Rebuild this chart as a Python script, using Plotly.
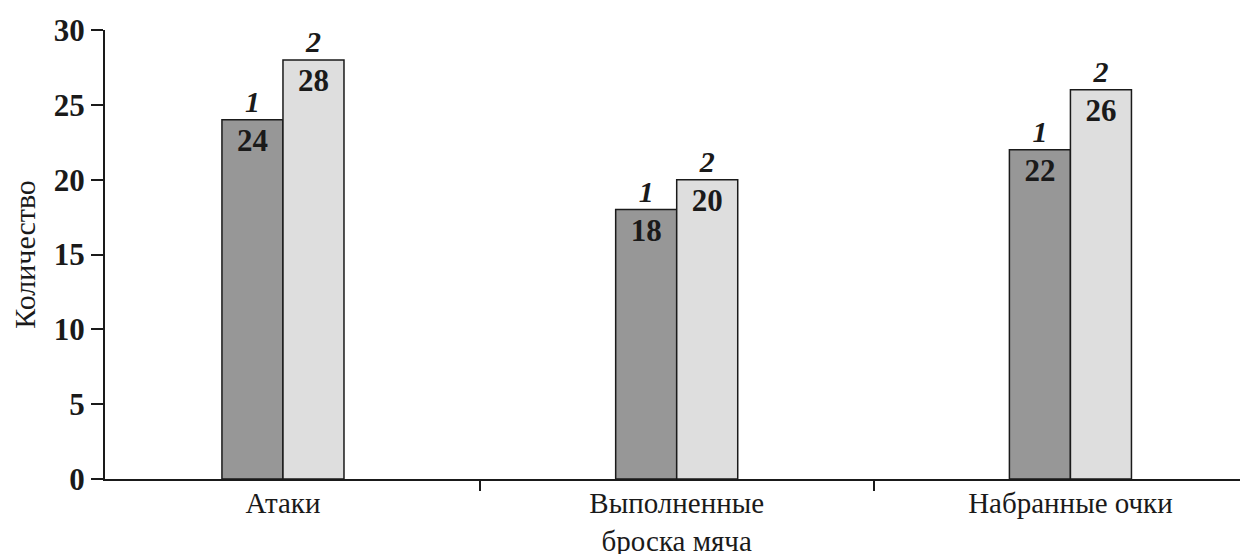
import plotly.graph_objects as go

categories = ["Атаки", "Выполненные<br>броска мяча", "Набранные очки"]
series1 = [24, 18, 22]
series2 = [28, 20, 26]
series_names = ["1", "2"]
y_ticks = [0, 5, 10, 15, 20, 25, 30]

FONT = "Liberation Serif"
colors = ["#979797", "#dedede"]
INK = "#1a1a1a"

fig = go.Figure()
for name, vals, col in zip(series_names, [series1, series2], colors):
    fig.add_trace(go.Bar(
        x=categories, y=vals, name=name, offsetgroup=name,
        marker=dict(color=col, line=dict(color=INK, width=1.5)),
        text=[str(v) for v in vals], textposition="inside", insidetextanchor="end",
        textangle=0,
        textfont=dict(family=FONT, size=31, color=INK, weight="bold"),
        constraintext="none",
    ))
for name, vals in zip(series_names, [series1, series2]):
    fig.add_trace(go.Scatter(
        x=categories, y=vals, offsetgroup=name, mode="text",
        text=[f"<b><i>{name}</i></b>"] * len(vals), textposition="top center",
        textfont=dict(family=FONT, size=30, color=INK),
        hoverinfo="skip",
    ))

fig.update_layout(
    width=1240, height=546,
    margin=dict(l=97, r=0, t=22, b=75, pad=0),
    paper_bgcolor="white", plot_bgcolor="white",
    barmode="group", bargap=0.69, bargroupgap=0,
    scattermode="group", scattergap=0.69,
    showlegend=False,
    font=dict(family=FONT, color=INK),
    xaxis=dict(
        type="category", range=[-0.452, 2.451], automargin=False,
        showline=True, linecolor=INK, linewidth=2,
        ticks="outside", tickson="boundaries", ticklen=10, tickcolor=INK, tickwidth=1.5,
        ticklabelstandoff=-3,
        tickfont=dict(family=FONT, size=29, color=INK),
        showgrid=False, zeroline=False,
    ),
    yaxis=dict(
        range=[0, 30], tickvals=y_ticks, automargin=False,
        showline=True, linecolor=INK, linewidth=2,
        ticks="outside", ticklen=12, tickcolor=INK, tickwidth=1.5,
        ticklabelstandoff=0,
        tickfont=dict(family=FONT, size=31, color=INK, weight="bold"),
        showgrid=False, zeroline=False,
        title=dict(text="Количество", font=dict(family=FONT, size=30, color=INK), standoff=22),
    ),
)

fig.write_html("out.html")
